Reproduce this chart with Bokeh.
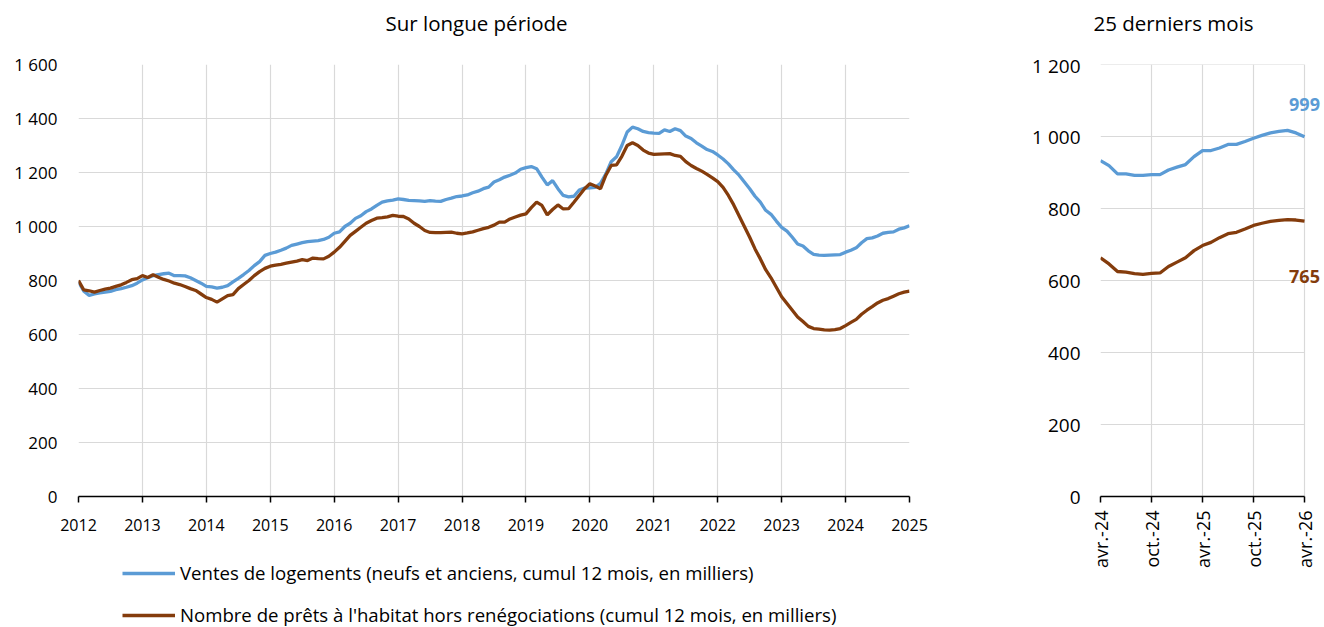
import math
from bokeh.plotting import figure
from bokeh.models import FixedTicker, Legend, LegendItem, Range1d, Label
from bokeh.layouts import row, column
from bokeh.embed import file_html
from bokeh.resources import INLINE

# ---------------- data ----------------
year_ticks = list(range(2012, 2026))
y_ticks_long = [0, 200, 400, 600, 800, 1000, 1200, 1400, 1600]
y_ticks_short = [0, 200, 400, 600, 800, 1000, 1200]

# monthly values, Jan 2012 -> Jan 2025 (thousands, 12-month cumulative)
ventes_long = [
    795, 760, 745, 750, 754, 757, 760, 766, 770, 775, 781, 790,
    802, 810, 818, 822, 825, 827, 818, 818, 817, 810, 800, 790,
    778, 776, 772, 775, 781, 795, 808, 822, 837, 855, 870, 893,
    900, 905, 912, 920, 930, 935, 940, 944, 946, 948, 952, 960,
    975, 980, 1000, 1012, 1030, 1040, 1055, 1065, 1078, 1090, 1095, 1098,
    1102, 1100, 1097, 1096, 1095, 1093, 1096, 1094, 1093, 1100, 1105, 1111,
    1113, 1117, 1125, 1131, 1140, 1146, 1165, 1173, 1183, 1190, 1198, 1212,
    1218, 1222, 1214, 1183, 1154, 1170, 1140, 1115, 1110, 1112, 1135, 1142,
    1143, 1145, 1160, 1195, 1240, 1258, 1300, 1350, 1368, 1362, 1352, 1348,
    1346, 1345, 1358, 1352, 1362, 1355, 1335, 1326, 1310, 1298, 1285, 1278,
    1265, 1250, 1232, 1210, 1190, 1165, 1140, 1112, 1090, 1060, 1045, 1020,
    997, 983, 960, 935, 928, 910, 897, 894, 893, 894, 895, 896,
    905, 912, 921, 940, 955, 958, 965, 975, 978, 980, 990, 995,
    1003,
]
prets_long = [
    800, 765, 762, 757, 763, 768, 772, 778, 784, 793, 803, 807,
    818, 811, 821, 812, 804, 798, 790, 785, 778, 770, 763, 750,
    737, 730, 720, 732, 744, 748, 770, 785, 800, 818, 833, 845,
    853, 857, 860, 864, 868, 872, 877, 874, 883, 881, 880, 890,
    905, 923, 945, 967, 982, 997, 1012, 1022, 1031, 1033, 1036, 1041,
    1038, 1037, 1028, 1012, 1000, 985, 978, 977, 977, 978, 979, 975,
    973, 976, 980, 986, 992, 997, 1005, 1016, 1016, 1028, 1035, 1042,
    1047, 1070, 1090, 1078, 1043, 1063, 1080, 1065, 1066, 1090, 1115, 1140,
    1158, 1150, 1140, 1190, 1226, 1228, 1260, 1300, 1310, 1300, 1283, 1272,
    1267, 1268, 1269, 1270, 1263, 1260, 1240, 1226, 1215, 1205, 1193, 1180,
    1166, 1145, 1115, 1080, 1040, 1000, 960, 917, 880, 840, 810, 775,
    740, 715, 690, 665, 648, 630, 622, 620, 617, 616, 618, 622,
    633, 645, 656, 675, 690, 703, 717, 727, 733, 742, 751, 757,
    761,
]

short_tick_labels = ["avr.-24", "oct.-24", "avr.-25", "oct.-25", "avr.-26"]
ventes_25 = [933, 919, 896, 896, 892, 892, 894, 894, 907, 915, 922, 944,
             961, 961, 968, 978, 978, 986, 995, 1003, 1010, 1014, 1017, 1010, 999]
prets_25 = [663, 646, 625, 623, 619, 617, 620, 621, 639, 651, 663, 683,
            697, 706, 719, 730, 734, 743, 753, 759, 764, 767, 769, 768, 765]

label_ventes = "Ventes de logements (neufs et anciens, cumul 12 mois, en milliers)"
label_prets = "Nombre de prêts à l'habitat hors renégociations (cumul 12 mois, en milliers)"
title_long = "Sur longue période"
title_short = "25 derniers mois"

# ---------------- style ----------------
BLUE = "#5B9BD5"
BROWN = "#843C0C"
GRID = "#D9D9D9"
FONT = "Open Sans"
FRAME_H = 432
LW = 3.3
TOTAL_W = 1321
TITLE_H = 52


def fmt(v):
    return f"{v:,}".replace(",", " ")


def style_axes(p, yticks, fs_x, fs_y):
    p.outline_line_color = None
    p.background_fill_color = "white"
    p.border_fill_color = "white"
    p.yaxis.ticker = FixedTicker(ticks=yticks)
    p.yaxis.major_label_overrides = {t: fmt(t) for t in yticks}
    p.yaxis.axis_line_color = None
    p.yaxis.major_tick_line_color = None
    p.yaxis.minor_tick_line_color = None
    p.ygrid.ticker = FixedTicker(ticks=yticks)
    p.xaxis.axis_line_color = "black"
    p.xaxis.axis_line_width = 1.5
    p.xaxis.major_tick_line_color = "black"
    p.xaxis.major_tick_line_width = 1.5
    p.xaxis.major_tick_in = 0
    p.xaxis.major_tick_out = 6
    p.xaxis.minor_tick_line_color = None
    p.grid.grid_line_color = GRID
    p.grid.grid_line_width = 1.2
    for ax, fs in ((p.xaxis, fs_x), (p.yaxis, fs_y)):
        ax.major_label_text_font = FONT
        ax.major_label_text_font_size = fs
        ax.major_label_text_color = "black"


def strip(width, height, left=0, right=0):
    s = figure(frame_width=width, frame_height=height,
               x_range=Range1d(0, width), y_range=Range1d(0, height),
               x_axis_type=None, y_axis_type=None,
               min_border_left=left, min_border_right=right,
               min_border_top=0, min_border_bottom=0,
               output_backend="svg", toolbar_location=None)
    s.outline_line_color = None
    s.background_fill_color = "white"
    s.border_fill_color = "white"
    s.grid.visible = False
    return s


# ---------------- titles strip (page-wide) ----------------
top = strip(TOTAL_W, TITLE_H)
top.add_layout(Label(x=476, y=TITLE_H - 22, text=title_long, text_align="center",
                     text_baseline="middle", text_font=FONT,
                     text_font_size="20.5px", text_color="black"))
top.add_layout(Label(x=1173, y=TITLE_H - 22, text=title_short, text_align="center",
                     text_baseline="middle", text_font=FONT,
                     text_font_size="20.5px", text_color="black"))

# ---------------- long period ----------------
x_long = [2012 + i / 12 for i in range(len(ventes_long))]

p1 = figure(frame_width=831, frame_height=FRAME_H,
            x_range=Range1d(2012, 2025), y_range=Range1d(0, 1600),
            min_border_left=78, min_border_right=91, min_border_top=12,
            min_border_bottom=48,
            output_backend="svg", toolbar_location=None)
style_axes(p1, y_ticks_long, "16px", "17px")
p1.yaxis.major_label_standoff = 15
p1.xaxis.ticker = FixedTicker(ticks=year_ticks)
p1.xaxis.major_label_overrides = {y: str(y) for y in year_ticks}
p1.xaxis.major_label_standoff = 16
p1.xgrid.ticker = FixedTicker(ticks=year_ticks)

p1.line(x_long, ventes_long, line_color=BLUE, line_width=LW)
p1.line(x_long, prets_long, line_color=BROWN, line_width=LW)

# legend strip (below left chart); the sample renderers sit outside the view
leg = strip(831, 83, left=78, right=91)
g1 = leg.line(x=[0, 1], y=[-500, -500], line_color=BLUE, line_width=LW)
g2 = leg.line(x=[0, 1], y=[-500, -500], line_color=BROWN, line_width=LW)
legend = Legend(items=[LegendItem(label=label_ventes, renderers=[g1]),
                       LegendItem(label=label_prets, renderers=[g2])],
                location=(44, 0), orientation="vertical",
                border_line_color=None, background_fill_alpha=0,
                glyph_width=53, glyph_height=20, label_height=20,
                spacing=17, label_standoff=5, padding=0, margin=0,
                label_text_font=FONT, label_text_font_size="18.6px",
                label_text_color="black")
leg.add_layout(legend, "center")

# ---------------- last 25 months ----------------
x_short = list(range(len(ventes_25)))
short_ticks = [0, 6, 12, 18, 24]

p2 = figure(frame_width=221, frame_height=FRAME_H,
            x_range=Range1d(0, 26), y_range=Range1d(0, 1200),
            min_border_left=100, min_border_right=0, min_border_top=12,
            min_border_bottom=80,
            output_backend="svg", toolbar_location=None)
style_axes(p2, y_ticks_short, "18px", "19px")
p2.yaxis.major_label_standoff = 14
p2.xaxis.bounds = (0, 24)
p2.xaxis.ticker = FixedTicker(ticks=short_ticks)
p2.xaxis.major_label_overrides = dict(zip(short_ticks, short_tick_labels))
p2.xaxis.major_label_orientation = math.pi / 2
p2.xaxis.major_label_standoff = 8
p2.xgrid.ticker = FixedTicker(ticks=short_ticks)
p2.ygrid.grid_line_color = None

# horizontal grid lines limited to the data span (as in the original)
p2.segment(x0=[x_short[0]] * len(y_ticks_short), x1=[x_short[-1]] * len(y_ticks_short),
           y0=y_ticks_short, y1=y_ticks_short, line_color=GRID, line_width=1.2)

p2.line(x_short, ventes_25, line_color=BLUE, line_width=LW)
p2.line(x_short, prets_25, line_color=BROWN, line_width=LW)

p2.add_layout(Label(x=x_short[-1], y=ventes_25[-1], text=str(ventes_25[-1]),
                    x_offset=0, y_offset=32, text_align="center",
                    text_baseline="middle", text_font=FONT, text_font_size="18px",
                    text_font_style="bold", text_color=BLUE))
p2.add_layout(Label(x=x_short[-1], y=prets_25[-1], text=str(prets_25[-1]),
                    x_offset=0, y_offset=-55, text_align="center",
                    text_baseline="middle", text_font=FONT, text_font_size="18px",
                    text_font_style="bold", text_color=BROWN))

layout = column(top, row(column(p1, leg), p2))
open("out.html", "w").write(file_html(layout, INLINE))
